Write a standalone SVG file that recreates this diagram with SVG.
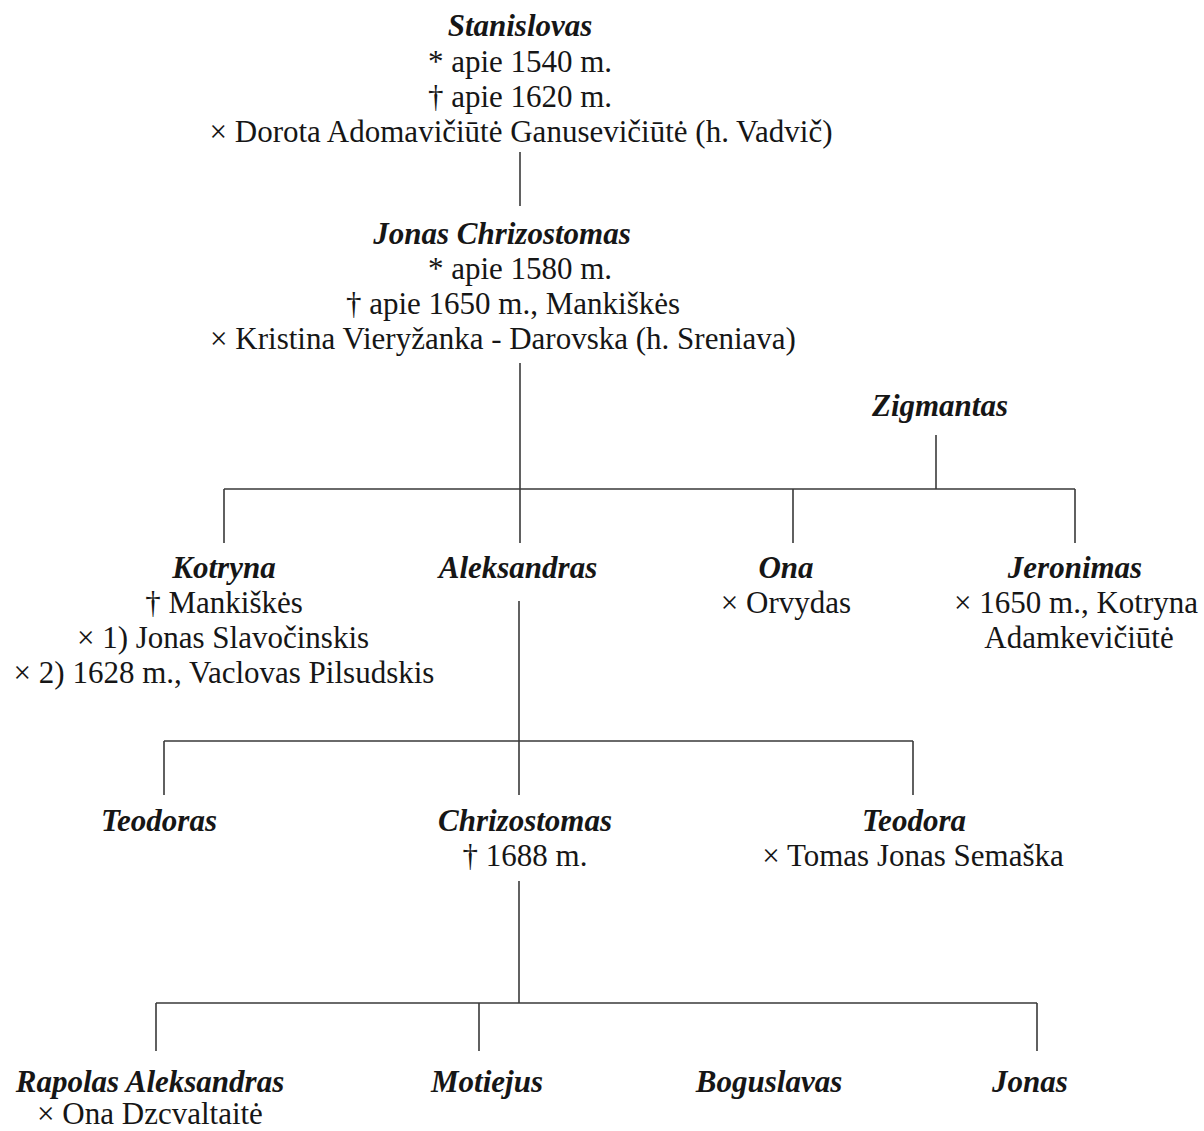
<svg xmlns="http://www.w3.org/2000/svg" width="1204" height="1131" viewBox="0 0 1204 1131">
<style>
text{font-family:"Liberation Serif","Times New Roman",serif;font-size:31px;fill:#161616;text-anchor:middle}
.n{font-weight:bold;font-style:italic}
.c{stroke:#3a3a3a;stroke-width:1.6;fill:none}
</style>
<rect width="1204" height="1131" fill="#fff"/>
<g id="connectors" class="c">
<path d="M520 152V206"/>
<path d="M520 363V489"/>
<path d="M936 435V489"/>
<path d="M224 489H1075M224 489V543M520 489V543M793 489V543M1075 489V543"/>
<path d="M519 601V741"/>
<path d="M164 741H913M164 741V795M519 741V795M913 741V795"/>
<path d="M519 881V1003"/>
<path d="M156 1003H1037M156 1003V1051M479 1003V1051M1037 1003V1051"/>
</g>
<g id="stanislovas">
<text class="n" x="520" y="36">Stanislovas</text>
<text x="520" y="71.5">* apie 1540 m.</text>
<text x="520" y="106.5">† apie 1620 m.</text>
<text x="521" y="141.5">× Dorota Adomavičiūtė Ganusevičiūtė (h. Vadvič)</text>
</g>
<g id="jonas-chrizostomas">
<text class="n" x="502" y="244">Jonas Chrizostomas</text>
<text x="520" y="279">* apie 1580 m.</text>
<text x="513" y="314">† apie 1650 m., Mankiškės</text>
<text x="503" y="349">× Kristina Vieryžanka - Darovska (h. Sreniava)</text>
</g>
<g id="zigmantas">
<text class="n" x="940" y="416">Zigmantas</text>
</g>
<g id="kotryna">
<text class="n" x="224" y="578">Kotryna</text>
<text x="224" y="613">† Mankiškės</text>
<text x="223" y="648">× 1) Jonas Slavočinskis</text>
<text x="224" y="683">× 2) 1628 m., Vaclovas Pilsudskis</text>
</g>
<g id="aleksandras">
<text class="n" x="518" y="578">Aleksandras</text>
</g>
<g id="ona">
<text class="n" x="786" y="578">Ona</text>
<text x="786" y="613">× Orvydas</text>
</g>
<g id="jeronimas">
<text class="n" x="1075" y="578">Jeronimas</text>
<text x="1076" y="613">× 1650 m., Kotryna</text>
<text x="1079" y="648">Adamkevičiūtė</text>
</g>
<g id="teodoras">
<text class="n" x="159" y="831">Teodoras</text>
</g>
<g id="chrizostomas">
<text class="n" x="525" y="831">Chrizostomas</text>
<text x="525" y="866">† 1688 m.</text>
</g>
<g id="teodora">
<text class="n" x="914" y="831">Teodora</text>
<text x="913" y="866">× Tomas Jonas Semaška</text>
</g>
<g id="rapolas-aleksandras">
<text class="n" x="150" y="1092">Rapolas Aleksandras</text>
<text x="150" y="1124">× Ona Dzcvaltaitė</text>
</g>
<g id="motiejus">
<text class="n" x="487" y="1092">Motiejus</text>
</g>
<g id="boguslavas">
<text class="n" x="769" y="1092">Boguslavas</text>
</g>
<g id="jonas">
<text class="n" x="1030" y="1092">Jonas</text>
</g>
</svg>
